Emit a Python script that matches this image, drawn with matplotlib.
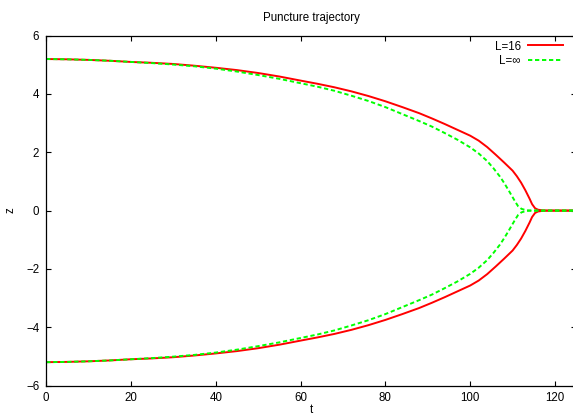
import matplotlib
matplotlib.use("Agg")
import matplotlib.pyplot as plt

# --- data ---
t_red = [0, 5, 10, 15, 20, 25, 30, 35, 40, 45, 50, 55, 60, 64, 68, 72, 76, 80, 84,
         88, 91, 94, 97, 100, 102, 104, 106, 108, 110, 111, 112, 113, 114, 114.6,
         115.3, 116, 117, 118, 125]
z_red_top = [5.20, 5.19, 5.17, 5.14, 5.10, 5.07, 5.03, 4.97, 4.90, 4.82, 4.72, 4.60,
             4.46, 4.35, 4.23, 4.09, 3.93, 3.75, 3.55, 3.34, 3.16, 2.97, 2.77, 2.57,
             2.40, 2.18, 1.92, 1.65, 1.37, 1.18, 0.96, 0.70, 0.41, 0.22, 0.08, 0.03,
             0.01, 0.0, 0.0]
z_red_bot = [-5.20, -5.19, -5.17, -5.14, -5.10, -5.07, -5.03, -4.97, -4.90, -4.82, -4.72,
             -4.60, -4.46, -4.35, -4.23, -4.09, -3.93, -3.75, -3.55, -3.34, -3.16, -2.97,
             -2.77, -2.57, -2.40, -2.18, -1.92, -1.65, -1.37, -1.18, -0.96, -0.70, -0.41,
             -0.22, -0.08, -0.03, -0.01, 0.0, 0.0]

t_grn = [0, 5, 10, 15, 20, 25, 30, 35, 40, 45, 50, 55, 60, 64, 68, 72, 76, 80, 84,
         88, 91, 94, 97, 100, 102, 104, 105.5, 107, 108, 109, 110, 110.6, 111.3,
         112.1, 113, 114, 125]
z_grn_top = [5.20, 5.19, 5.17, 5.14, 5.10, 5.06, 5.01, 4.95, 4.87, 4.77, 4.65, 4.52,
             4.37, 4.25, 4.11, 3.94, 3.76, 3.55, 3.31, 3.07, 2.88, 2.66, 2.43, 2.17,
             1.96, 1.70, 1.45, 1.17, 0.95, 0.71, 0.46, 0.31, 0.15, 0.06, 0.02, 0.0, 0.0]
z_grn_bot = [-5.20, -5.19, -5.17, -5.14, -5.10, -5.06, -5.01, -4.95, -4.87, -4.77, -4.65,
             -4.52, -4.37, -4.25, -4.11, -3.94, -3.76, -3.55, -3.31, -3.07, -2.88, -2.66,
             -2.43, -2.17, -1.96, -1.70, -1.45, -1.17, -0.95, -0.71, -0.46, -0.31, -0.15,
             -0.06, -0.02, 0.0, 0.0]

labels = ["L=16", "L=\u221e"]
xticks = [0, 20, 40, 60, 80, 100, 120]
yticks = [-6, -4, -2, 0, 2, 4, 6]

plt.rcParams['font.family'] = ['Liberation Sans', 'DejaVu Sans']
FS = 8.3

W, H = 573, 417
fig = plt.figure(figsize=(W / 100, H / 100), dpi=100)
left, right, top, bottom = 46.2, 576.2, 35.7, 385.5
ax = fig.add_axes([left / W, 1 - bottom / H, (right - left) / W, (bottom - top) / H])

red = '#ff0000'
green = '#00ff00'
ax.plot(t_red, z_red_top, color=red, lw=1.4, label=labels[0])
ax.plot(t_red, z_red_bot, color=red, lw=1.4)
ax.plot(t_grn, z_grn_top, color=green, lw=1.4, ls=(0, (2.2, 1.4)), label=labels[1])
ax.plot(t_grn, z_grn_bot, color=green, lw=1.4, ls=(0, (2.2, 1.4)))

ax.set_xlim(0, 125)
ax.set_ylim(-6, 6)
ax.set_xticks(xticks)
ax.set_yticks(yticks)
ax.tick_params(direction='in', length=3.5, width=0.8, top=True, right=True,
               labelsize=FS, pad=5)
for s in ax.spines.values():
    s.set_linewidth(0.9)

ax.set_title("Puncture trajectory", fontsize=FS, pad=10.5)
ax.set_xlabel("t", fontsize=FS)
ax.set_ylabel("z", fontsize=FS)
ax.xaxis.set_label_coords(0.5, (bottom - 404) / (bottom - top))
ax.yaxis.set_label_coords((17 - left) / (right - left), 0.5)

leg = ax.legend(loc='upper right', bbox_to_anchor=(562.5 / W, 1 - 40.5 / H),
                bbox_transform=fig.transFigure, frameon=False, markerfirst=False,
                fontsize=FS, handlelength=3.0, handletextpad=0.6,
                labelspacing=0.2, borderpad=0, borderaxespad=0)

fig.savefig("out.png", dpi=100)
